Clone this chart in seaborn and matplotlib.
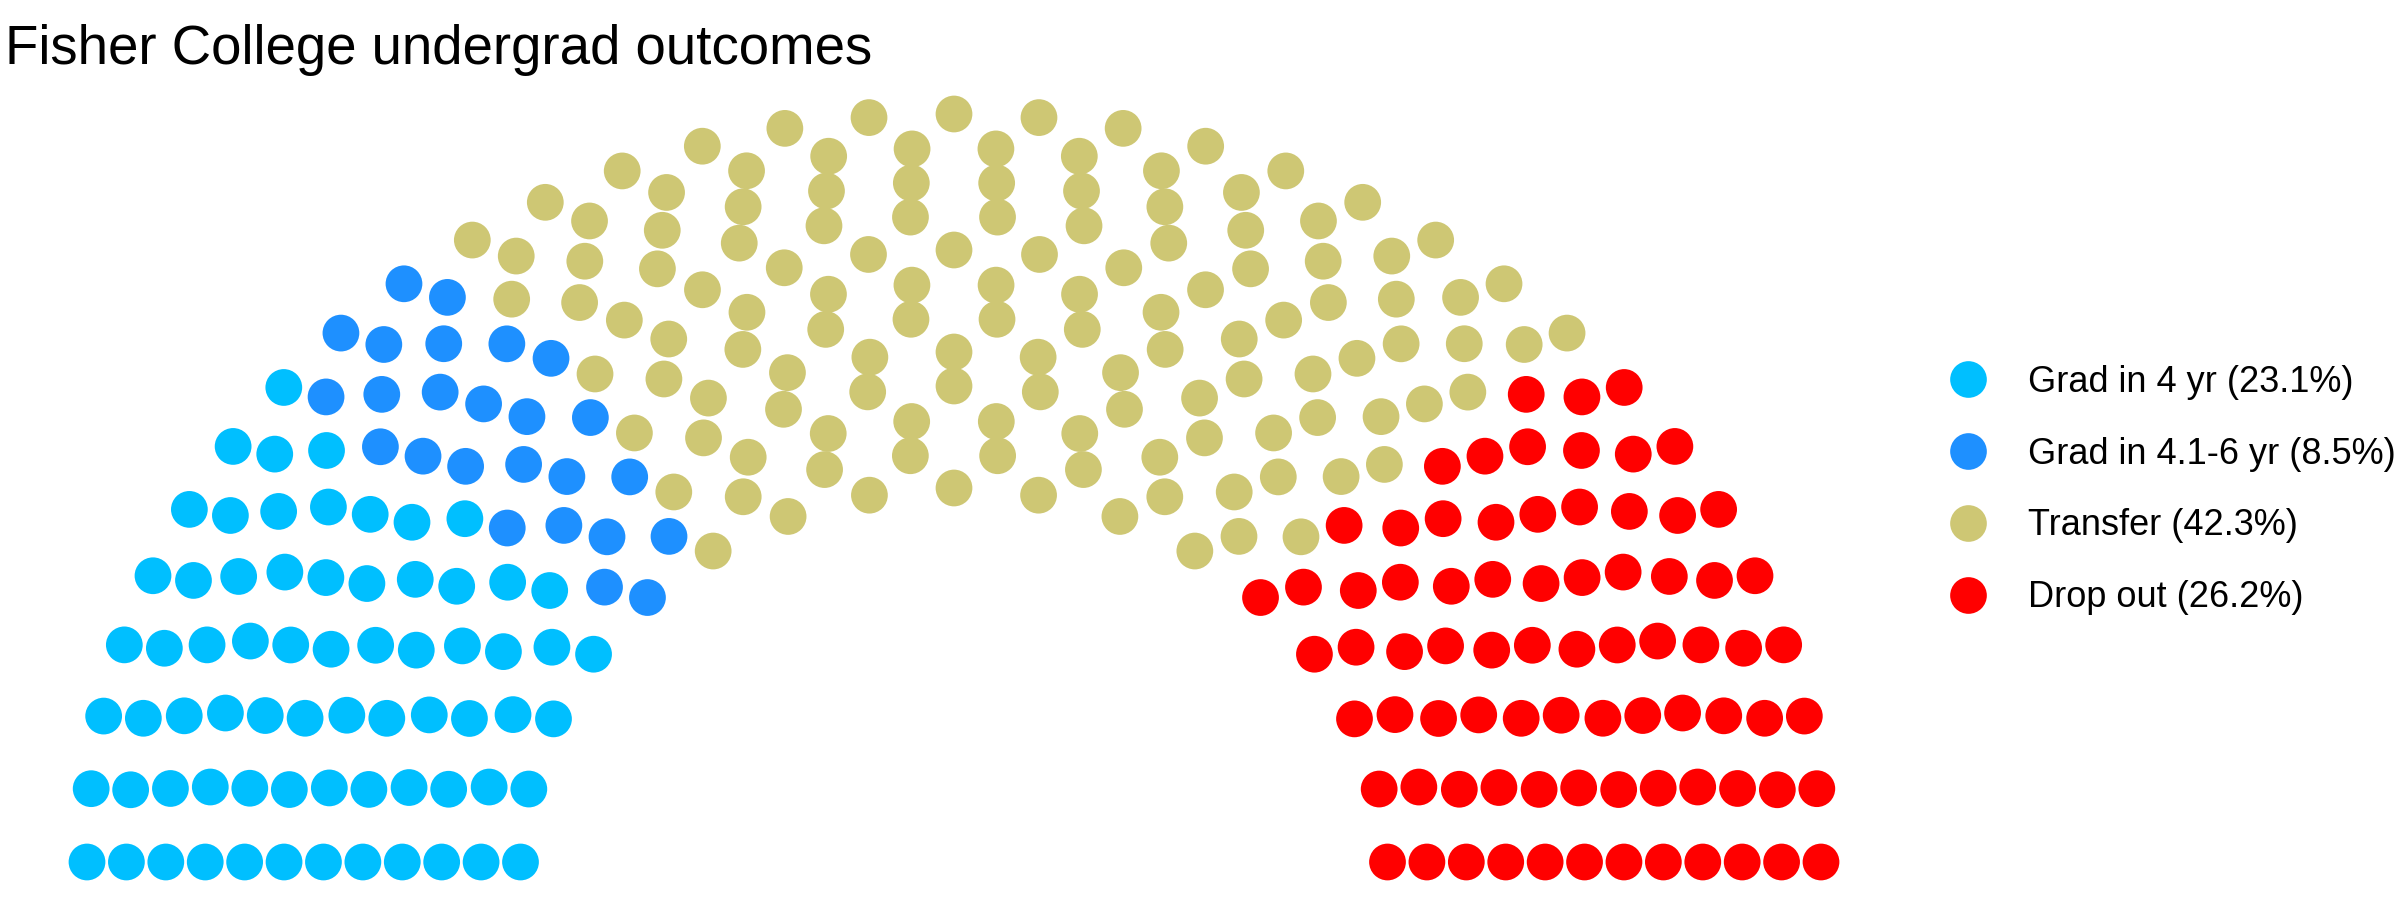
from fractions import Fraction

import numpy as np
import pandas as pd
import seaborn as sns
import matplotlib.pyplot as plt
from matplotlib.lines import Line2D

# outcome groups, share labels and number of seats (dots) per group
outcomes = ['Grad in 4 yr', 'Grad in 4.1-6 yr', 'Transfer', 'Drop out']
shares = ['23.1%', '8.5%', '42.3%', '26.2%']
seats = [69, 25, 127, 78]
colors = ['#00BFFF', '#1E90FF', '#CEC774', '#FF0000']
n_rows = 12


def semicircle_layout(n_seats, n_rows):
    '''
    Spreads n_seats over n_rows concentric half circles (radius 1 to 2),
    ordered from the left end to the right end, outer row first.
    '''
    radii = [1 + Fraction(i, n_rows - 1) for i in range(n_rows)]
    left = n_seats
    pts = []
    for i, r in enumerate(radii):
        count = round(left * r / sum(radii[i:]))
        left -= count
        for theta in np.linspace(0, np.pi, count):
            pts.append((float(r) * np.cos(theta), float(r) * np.sin(theta), i, theta))
    df = pd.DataFrame(pts, columns=['x', 'y', 'row', 'theta'])
    return df.sort_values(['theta', 'row'], ascending=False).reset_index(drop=True)


parl = semicircle_layout(sum(seats), n_rows)
parl['outcome'] = np.repeat(outcomes, seats)

W, H = 2400, 900
fig = plt.figure(figsize=(W / 100, H / 100), dpi=100)
sns.set_style('white')
plt.rcParams['font.family'] = ['Liberation Sans', 'DejaVu Sans']
plt.rcParams['text.color'] = 'black'

# pixel geometry of the half circle
cx, cy0, ux, uy = 954, 862, 433.5, 374
ax = fig.add_axes([(cx - 2.1 * ux) / W, (H - cy0 - 0.08 * uy) / H,
                   4.2 * ux / W, 2.16 * uy / H])
sns.scatterplot(data=parl, x='x', y='y', hue='outcome', hue_order=outcomes,
                palette=colors, s=700, linewidth=0, legend=False, ax=ax)
ax.set_xlim(-2.1, 2.1)
ax.set_ylim(-0.08, 2.08)
ax.set_axis_off()

fig.text(5 / W, 1 - 64 / H, 'Fisher College undergrad outcomes',
         fontsize=39.3, color='black', ha='left', va='baseline')

handles = [Line2D([], [], marker='o', linestyle='', markersize=26.4,
                  markerfacecolor=c, markeredgewidth=0) for c in colors]
labels = [f'{o} ({s})' for o, s in zip(outcomes, shares)]
fig.legend(handles, labels, loc='center left', bbox_to_anchor=(1932 / W, 1 - 490 / H),
           frameon=False, fontsize=26, labelcolor='black', borderpad=0, borderaxespad=0,
           handlelength=2.0, handletextpad=0.67, labelspacing=1.02)

plt.savefig('out.png', dpi=100)
plt.close()
